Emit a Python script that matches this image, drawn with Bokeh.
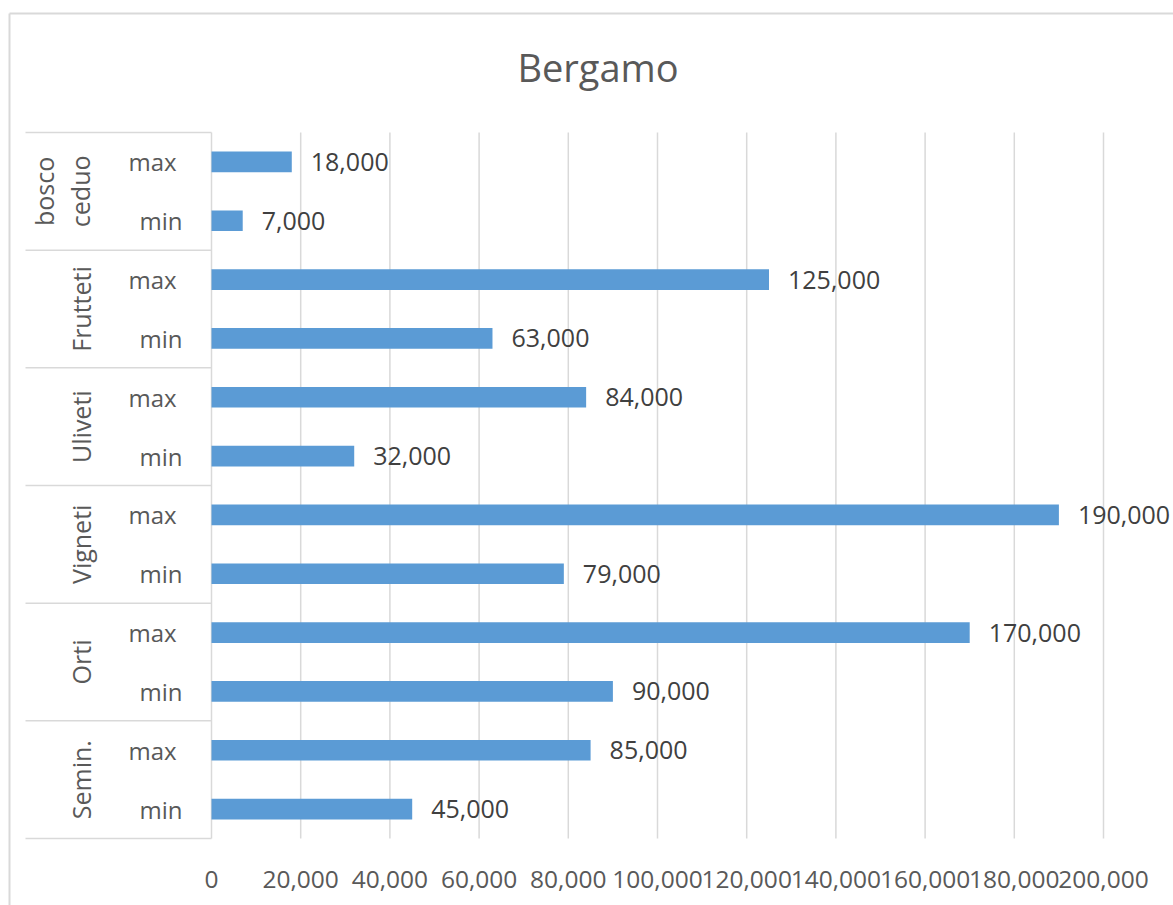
import math
from bokeh.plotting import figure
from bokeh.models import Range1d, FixedTicker, NumeralTickFormatter
from bokeh.core.properties import value
from bokeh.embed import file_html
from bokeh.resources import INLINE

# ---- data (bottom to top, as drawn) ----
title_text = "Bergamo"
groups = ["Semin.", "Orti", "Vigneti", "Uliveti", "Frutteti", "bosco\nceduo"]
sub_labels = ["min", "max"]
min_values = [45000, 90000, 79000, 32000, 63000, 7000]
max_values = [85000, 170000, 190000, 84000, 125000, 18000]
x_ticks = [0, 20000, 40000, 60000, 80000, 100000, 120000, 140000, 160000, 180000, 200000]

# ---- layout helpers (page pixels -> data) ----
W, H = 1173, 905
ZERO_PX, MAX_PX = 211, 1103          # x pixel of 0 and of the last tick
TOP_PX, BOT_PX = 132, 838            # y pixel of the plot area top / bottom
n = len(groups)
PX = (MAX_PX - ZERO_PX) / x_ticks[-1]
PY = (BOT_PX - TOP_PX) / (2 * n)
def px_to_x(px):
    return (px - ZERO_PX) / PX
def py_to_y(py):
    return (BOT_PX - py) / PY

y_min = [2 * i + 0.5 for i in range(n)]
y_max = [2 * i + 1.5 for i in range(n)]
y_grp = [2 * i + 1 for i in range(n)]
bounds = [2 * i for i in range(n + 1)]

TXT = "#595959"
GRID = "#D9D9D9"
FONT = "Open Sans"

p = figure(width=W, height=H,
           x_range=Range1d(px_to_x(0), px_to_x(W)),
           y_range=Range1d(py_to_y(H), py_to_y(0)),
           output_backend="svg", toolbar_location=None, y_axis_location=None,
           min_border=0, min_border_left=0, min_border_right=0,
           min_border_top=0, min_border_bottom=0)
p.outline_line_color = None
p.background_fill_color = "white"
p.border_fill_color = "white"
p.xgrid.visible = False
p.ygrid.visible = False

# value axis (drawn at y = 0 inside the canvas)
p.xaxis.fixed_location = 0
p.xaxis.ticker = FixedTicker(ticks=x_ticks)
p.xaxis.formatter = NumeralTickFormatter(format="0,0")
p.xaxis.axis_line_color = None
p.xaxis.major_tick_line_color = None
p.xaxis.minor_tick_line_color = None
p.xaxis.major_label_text_font = FONT
p.xaxis.major_label_text_font_size = "24.5px"
p.xaxis.major_label_text_color = TXT
p.xaxis.major_label_standoff = 26

# outer chart border (left and top edges; the rest is cropped)
p.segment(x0=[px_to_x(9), px_to_x(9)], x1=[px_to_x(9), px_to_x(W + 10)],
          y0=[py_to_y(13), py_to_y(13)], y1=[py_to_y(H + 10), py_to_y(13)],
          line_color=GRID, line_width=2)

# title
p.text(x=[px_to_x(597.5)], y=[py_to_y(66)], text=[title_text],
       text_align="center", text_baseline="middle",
       text_font=value(FONT), text_font_size="38px", text_color=TXT)

# vertical grid lines at the ticks
p.segment(x0=x_ticks, x1=x_ticks, y0=[0] * len(x_ticks), y1=[2 * n] * len(x_ticks),
          line_color=GRID, line_width=1.5)

# bars
p.hbar(y=y_max, left=0, right=max_values, height=0.35, fill_color="#5B9BD5", line_color=None)
p.hbar(y=y_min, left=0, right=min_values, height=0.35, fill_color="#5B9BD5", line_color=None)

# data labels
lab_kw = dict(x_offset=19, text_align="left", text_baseline="middle",
              text_font=value(FONT), text_font_size="25px", text_color="#404040")
p.text(x=max_values, y=y_max, text=[f"{v:,}" for v in max_values], **lab_kw)
p.text(x=min_values, y=y_min, text=[f"{v:,}" for v in min_values], **lab_kw)

# category axis: group separators
p.segment(x0=[px_to_x(25)] * len(bounds), x1=[0] * len(bounds), y0=bounds, y1=bounds,
          line_color=GRID, line_width=1.5)

# sub-category labels
sub_kw = dict(text_align="center", text_baseline="middle",
              text_font=value(FONT), text_font_size="24px", text_color=TXT)
p.text(x=[px_to_x(152)] * n, y=y_max, text=[sub_labels[1]] * n, **sub_kw)
p.text(x=[px_to_x(160.5)] * n, y=y_min, text=[sub_labels[0]] * n, **sub_kw)

# group labels (rotated)
p.text(x=[px_to_x(97)] * n, y=y_grp, text=groups, angle=math.pi / 2,
       text_align="center", text_baseline="bottom", text_line_height=1.08,
       text_font=value(FONT), text_font_size="25px", text_color=TXT)

open("out.html", "w").write(file_html(p, INLINE))
